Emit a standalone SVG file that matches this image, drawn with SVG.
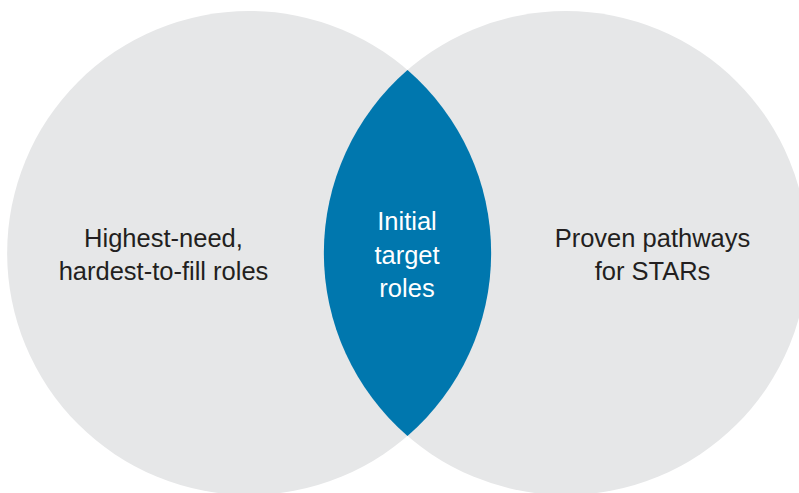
<svg xmlns="http://www.w3.org/2000/svg" width="799" height="493" viewBox="0 0 799 493">
  <style>
    .set { fill: #E6E7E8; }
    .overlap { fill: #0077AE; }
    .label { font-family: "Liberation Sans", Arial, sans-serif; font-size: 25.5px; text-anchor: middle; fill: #231F20; }
    .label-inv { fill: #FFFFFF; }
  </style>
  <rect width="799" height="493" fill="#FFFFFF"/>

  <!-- Left set -->
  <g id="set-need">
    <circle class="set" cx="249.15" cy="253" r="242"/>
    <text class="label" x="163.5" y="246.7">Highest-need,</text>
    <text class="label" x="163.5" y="279.5">hardest-to-fill roles</text>
  </g>

  <!-- Right set -->
  <g id="set-pathways">
    <circle class="set" cx="565.85" cy="253" r="242"/>
    <text class="label" x="652.5" y="246.7">Proven pathways</text>
    <text class="label" x="652.5" y="279.5">for STARs</text>
  </g>

  <!-- Intersection of the two sets -->
  <g id="overlap-target">
    <path class="overlap" d="M 407.5 70 A 242 242 0 0 1 407.5 436 A 242 242 0 0 1 407.5 70 Z"/>
    <text class="label label-inv" x="407" y="230">Initial</text>
    <text class="label label-inv" x="407" y="263.5">target</text>
    <text class="label label-inv" x="407" y="297">roles</text>
  </g>

  <g id="connectors"/>
</svg>
